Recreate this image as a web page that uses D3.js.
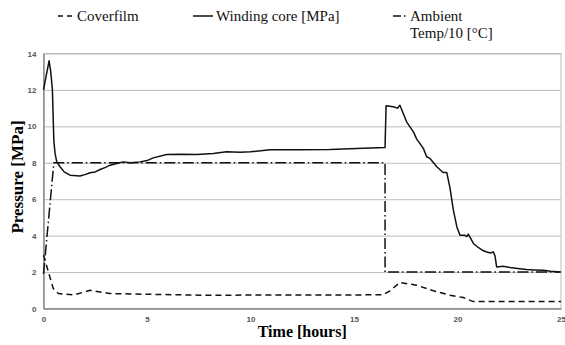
<!DOCTYPE html>
<html>
<head>
<meta charset="utf-8">
<script src="https://cdn.jsdelivr.net/npm/d3@7"></script>
<style>
  body { margin: 0; background: #fff; }
  svg { display: block; }
</style>
</head>
<body>
<div id="chart"></div>
<script>
// winding core pressure [MPa]
var coreTime = [0, 0.15, 0.27, 0.35, 0.43, 0.5, 0.56, 0.64, 0.8, 1.0, 1.28, 1.76, 2.0, 2.25, 2.5, 2.73, 3.0, 3.21, 3.5, 3.85, 4.2, 4.66, 5.0, 5.3, 5.95, 6.6, 7.4, 8.2, 8.85, 9.5, 10.0, 10.94, 12.23, 13.84, 15.45, 16.5, 16.55, 16.9, 17.1, 17.22, 17.54, 17.87, 18.03, 18.35, 18.51, 18.67, 19.0, 19.3, 19.48, 19.64, 19.8, 19.97, 20.12, 20.36, 20.45, 20.52, 20.77, 21.0, 21.2, 21.41, 21.6, 21.73, 21.81, 21.89, 22.2, 22.54, 22.9, 23.34, 23.7, 24.15, 24.5, 24.95];
var coreVal  = [12.0, 12.9, 13.6, 13.0, 12.0, 9.2, 8.5, 8.05, 7.78, 7.5, 7.32, 7.28, 7.35, 7.45, 7.5, 7.63, 7.75, 7.87, 7.95, 8.05, 8.0, 8.05, 8.12, 8.27, 8.46, 8.47, 8.46, 8.51, 8.6, 8.58, 8.6, 8.72, 8.71, 8.73, 8.8, 8.84, 11.13, 11.08, 11.0, 11.16, 10.25, 9.7, 9.3, 8.79, 8.33, 8.24, 7.78, 7.47, 7.47, 6.59, 5.4, 4.48, 4.02, 4.02, 3.95, 4.08, 3.57, 3.35, 3.2, 3.1, 3.05, 3.11, 2.9, 2.28, 2.32, 2.25, 2.2, 2.14, 2.12, 2.1, 2.05, 2.01];

// cover film pressure
var filmTime = [0, 0.47, 0.72, 1.5, 2.25, 3.2, 7.56, 16.4, 16.74, 17.22, 18.03, 18.83, 19.64, 20.28, 20.76, 25];
var filmVal  = [2.93, 1.1, 0.82, 0.75, 1.0, 0.82, 0.73, 0.75, 0.97, 1.43, 1.28, 0.97, 0.73, 0.6, 0.38, 0.38];

// ambient temperature / 10
var ambTime = [0, 0.5, 16.5, 16.5, 25];
var ambVal  = [1.9, 8.0, 8.0, 2.0, 2.0];

var yTicks = [0, 2, 4, 6, 8, 10, 12, 14];
var xTicks = [0, 5, 10, 15, 20, 25];

var W = 565, H = 345;
var margin = {top: 53.5, right: 4, bottom: 36.5, left: 43.5};
var w = W - margin.left - margin.right;
var h = H - margin.top - margin.bottom;

var svg = d3.select("#chart").append("svg")
  .attr("width", W)
  .attr("height", H);

var g = svg.append("g")
  .attr("transform", "translate(" + margin.left + "," + margin.top + ")");

var x = d3.scaleLinear().domain([0, 25]).range([0, w]);
var y = d3.scaleLinear().domain([0, 14]).range([h, 0]);

// gridlines
g.append("g")
  .attr("class", "grid")
  .call(d3.axisLeft(y).tickValues(yTicks).tickSize(-w).tickFormat(""))
  .call(function(s) {
    s.select(".domain").remove();
    s.selectAll("line").attr("stroke", "#bdbdbd").attr("stroke-width", 1);
  });

// frame
g.append("rect")
  .attr("x", 0).attr("y", 0)
  .attr("width", w).attr("height", h)
  .attr("fill", "none")
  .attr("stroke", "#bdbdbd");

// axes
var yAxis = g.append("g")
  .call(d3.axisLeft(y).tickValues(yTicks).tickSize(0).tickPadding(7));
var xAxis = g.append("g")
  .attr("transform", "translate(0," + h + ")")
  .call(d3.axisBottom(x).tickValues(xTicks).tickSize(0).tickPadding(8));
[yAxis, xAxis].forEach(function(a) {
  a.select(".domain").attr("stroke", "#8a8a8a").attr("stroke-width", 1.5);
  a.selectAll("text")
    .attr("font-family", "Liberation Sans, Arial, sans-serif")
    .attr("font-size", "8px")
    .attr("font-weight", "bold")
    .attr("fill", "#555");
});

function series(t, v) {
  return t.map(function(d, i) { return [d, v[i]]; });
}

var line = d3.line()
  .x(function(d) { return x(d[0]); })
  .y(function(d) { return y(d[1]); });

g.append("path")
  .datum(series(ambTime, ambVal))
  .attr("d", line)
  .attr("fill", "none")
  .attr("stroke", "#111")
  .attr("stroke-width", 1.5)
  .attr("stroke-dasharray", "11,3,1.5,3");

g.append("path")
  .datum(series(filmTime, filmVal))
  .attr("d", line)
  .attr("fill", "none")
  .attr("stroke", "#111")
  .attr("stroke-width", 1.5)
  .attr("stroke-dasharray", "6,4");

g.append("path")
  .datum(series(coreTime, coreVal))
  .attr("d", line)
  .attr("fill", "none")
  .attr("stroke", "#111")
  .attr("stroke-width", 1.5)
  .attr("stroke-linejoin", "round");

// axis titles
svg.append("text")
  .attr("x", margin.left + w / 2)
  .attr("y", 337)
  .attr("text-anchor", "middle")
  .attr("font-family", "Liberation Serif, Times New Roman, serif")
  .attr("font-weight", "bold")
  .attr("font-size", "16px")
  .text("Time [hours]");

svg.append("text")
  .attr("transform", "translate(23,177) rotate(-90)")
  .attr("text-anchor", "middle")
  .attr("font-family", "Liberation Serif, Times New Roman, serif")
  .attr("font-weight", "bold")
  .attr("font-size", "17px")
  .text("Pressure [MPa]");

// legend
var legendItems = [
  {x: 58, len: 16, dash: "5,4", label: ["Coverfilm"]},
  {x: 193, len: 20, dash: null, label: ["Winding core [MPa]"]},
  {x: 393, len: 11, dash: "8,3,1.5,20", label: ["Ambient", "Temp/10 [°C]"]}
];
var legend = svg.append("g");
legendItems.forEach(function(d) {
  legend.append("line")
    .attr("x1", d.x).attr("x2", d.x + d.len + (d.dash && d.dash.length > 4 ? 2 : 0))
    .attr("y1", 16).attr("y2", 16)
    .attr("stroke", "#111")
    .attr("stroke-width", 1.5)
    .attr("stroke-dasharray", d.dash);
  var txt = legend.append("text")
    .attr("x", d.x + d.len + 3 + (d.label.length > 1 ? 3 : 0))
    .attr("y", 21)
    .attr("font-family", "Liberation Serif, Times New Roman, serif")
    .attr("font-size", "15px")
    .attr("fill", "#111");
  d.label.forEach(function(l, i) {
    txt.append("tspan")
      .attr("x", d.x + d.len + 3 + (d.label.length > 1 ? 3 : 0))
      .attr("dy", i === 0 ? 0 : 17)
      .text(l);
  });
});
</script>
</body>
</html>
